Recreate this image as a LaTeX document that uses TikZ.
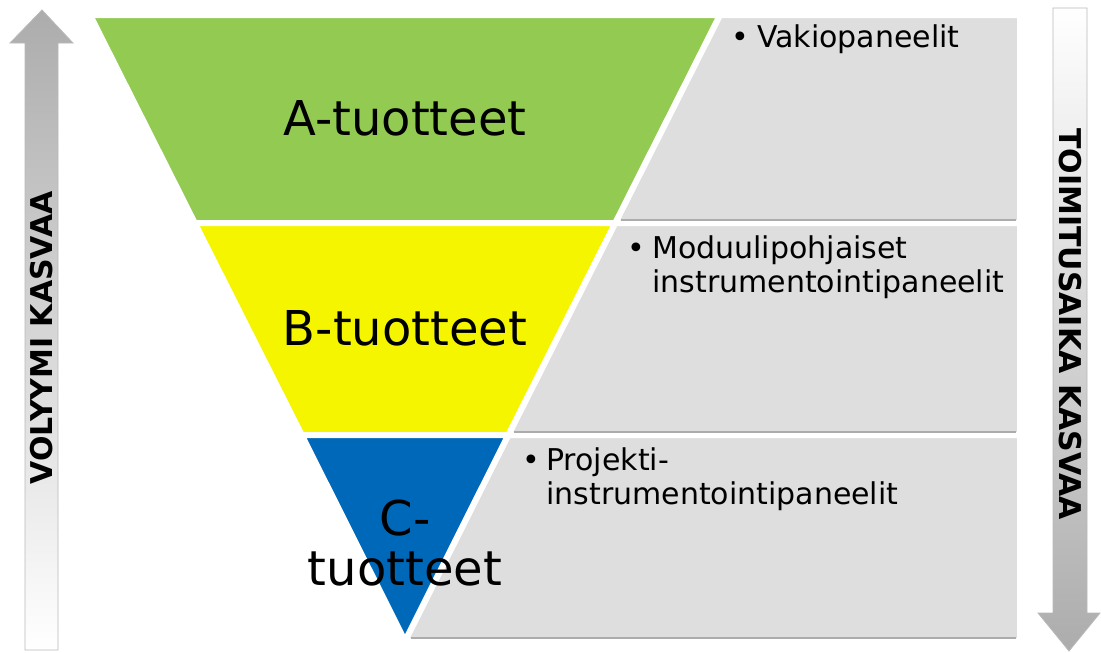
\documentclass[tikz,border=0pt]{standalone}
\usepackage{fontspec}
\setmainfont{DejaVu Sans}
\usetikzlibrary{positioning}
\usepackage{xcolor}
\definecolor{tierA}{HTML}{92CA52}
\definecolor{tierB}{HTML}{F5F500}
\definecolor{tierC}{HTML}{0068B8}
\definecolor{panelgray}{HTML}{DEDEDE}

\begin{document}
\begin{tikzpicture}[x=0.75pt, y=-0.75pt,
    band/.style={draw=white, line width=4.5pt, line join=round},
    panel/.style={fill=panelgray, draw=white, line width=4.5pt, line join=round},
    paneledge/.style={draw=gray!65, line width=1.5pt},
    tier/.style={font=\fontsize{36}{38}\selectfont, align=center},
    item/.style={font=\fontsize{22.5}{25.5}\selectfont, align=left, anchor=base west, inner sep=0pt},
    dot/.style={font=\fontsize{22.5}{25.5}\selectfont, anchor=base, inner sep=0pt},
    axis/.style={draw=gray!55, line width=0.6pt},
    axislabel/.style={font=\bfseries\fontsize{22.5}{25}\selectfont}]

    \useasboundingbox (0,0) rectangle (1101,653);

    % Volume arrow
    \draw[axis, top color=gray!65, bottom color=white]
        (25,650) -- (25,43) -- (10,43) -- (42,10) -- (73,43) -- (58,43) -- (58,650) -- cycle;
    \node[axislabel, rotate=90] (volume) at (42,338) {VOLYYMI KASVAA};

    % Lead time arrow
    \draw[axis, top color=white, bottom color=gray!65]
        (1053,8) -- (1087,8) -- (1087,613) -- (1100,613) -- (1069,651) -- (1038,613) -- (1053,613) -- cycle;
    \node[axislabel, rotate=-90] (leadtime) at (1070,324) {TOIMITUSAIKA KASVAA};

    % Panels
    \draw[panel] (720,15) -- (1020,15) -- (1020,223) -- (615.2,223) -- cycle;
    \draw[panel] (615.2,223) -- (1020,223) -- (1020,435) -- (508.3,435) -- cycle;
    \draw[panel] (508.3,435) -- (1020,435) -- (1020,641) -- (405,641) -- cycle;
    \draw[paneledge] (621,219.5) -- (1016,219.5);
    \draw[paneledge] (514,431.5) -- (1016,431.5);
    \draw[paneledge] (411,637.5) -- (1016,637.5);

    % Pyramid
    \draw[band, fill=tierA] (90,15) -- (720,15) -- (615.2,223) -- (194.8,223) -- cycle;
    \draw[band, fill=tierB] (194.8,223) -- (615.2,223) -- (508.3,435) -- (301.7,435) -- cycle;
    \draw[band, fill=tierC] (301.7,435) -- (508.3,435) -- (405,641) -- cycle;

    \node[tier] (tierA) at (405,118) {A-tuotteet};
    \node[tier] (tierB) at (405,328) {B-tuotteet};
    \node[tier] (tierC) at (405,543) {C-\\tuotteet};

    % Bullet lists (base = last line)
    \node[dot] (dotA) at (740,47) {\textbullet};
    \node[item] (itemA) at (757,47) {Vakiopaneelit};
    \node[dot] (dotB) at (636,258) {\textbullet};
    \node[item] (itemB) at (652,292) {Moduulipohjaiset\\instrumentointipaneelit};
    \node[dot] (dotC) at (531,470) {\textbullet};
    \node[item] (itemC) at (546,504) {Projekti-\\instrumentointipaneelit};
\end{tikzpicture}
\end{document}
